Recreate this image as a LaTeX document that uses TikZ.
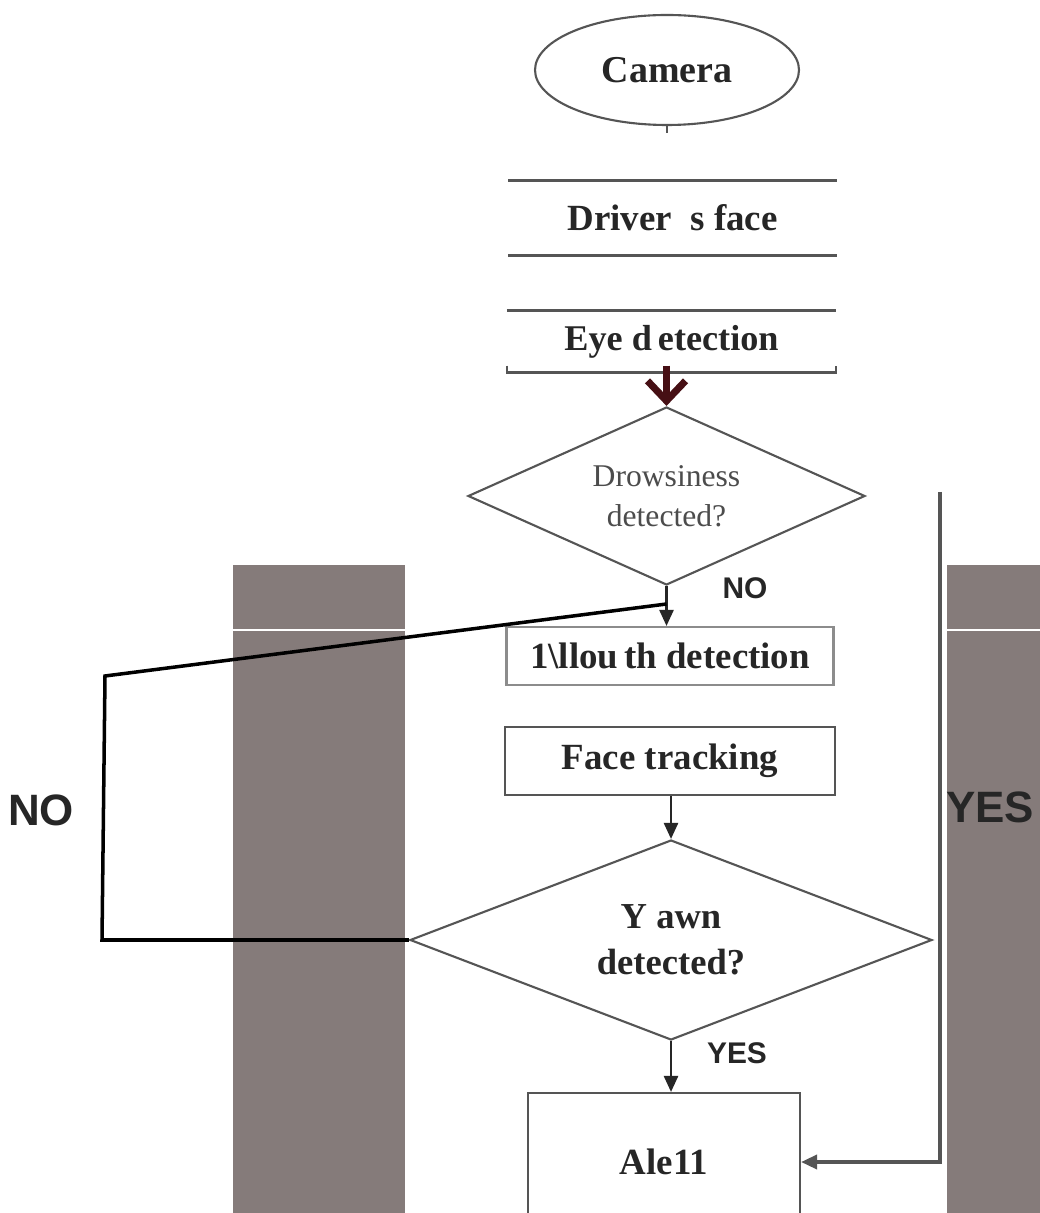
\documentclass[tikz,border=0pt]{standalone}
\usepackage{fontspec}
\setmainfont{Liberation Serif}
\newfontfamily\labelfont{Liberation Sans}
\usetikzlibrary{shapes.geometric,arrows.meta}
\definecolor{barcolor}{RGB}{133,123,122}
\definecolor{boxline}{RGB}{85,85,85}
\definecolor{eyearrow}{RGB}{70,15,20}

\begin{document}
\begin{tikzpicture}[
  every node/.style={text=black!85, inner sep=0pt},
  stagebox/.style={draw=boxline, line width=0.6pt, rectangle, font=\bfseries\fontsize{10.5}{12}\selectfont},
  decision/.style={draw=boxline, line width=0.6pt, diamond, align=center},
  flow/.style={draw=black!85, line width=0.7pt, -{Triangle[length=1.6mm,width=1.4mm]}},
  loopline/.style={draw=black, line width=1pt},
  tag/.style={font=\labelfont\bfseries\fontsize{8.5}{10}\selectfont},
  bigtag/.style={font=\labelfont\bfseries\fontsize{12.5}{14}\selectfont}
]

        \clip (0,0) rectangle (10.40,-12.13);
        \fill[white] (0,0) rectangle (10.40,-12.13);

        % gray side bars
        \foreach \xa/\xb in {2.33/4.05, 9.47/10.40}{
            \fill[barcolor] (\xa,-5.65) rectangle (\xb,-12.13);
            \draw[white, line width=0.8pt] (\xa,-6.30) -- (\xb,-6.30);
 }

        \node[draw=boxline, line width=0.6pt, ellipse, minimum width=2.64cm, minimum height=1.10cm,
              font=\bfseries\fontsize{10.8}{12}\selectfont] (cam) at (6.67,-0.70) {Camera};
        \draw[boxline, line width=0.6pt] (cam.south) -- ++(0,-0.07);

        \node[font=\bfseries\fontsize{10.5}{12}\selectfont, minimum width=3.27cm, minimum height=0.74cm] (face) at (6.725,-2.18) {Driver\ \ s face};
        \draw[boxline, line width=0.7pt] (face.north west) -- (face.north east);
        \draw[boxline, line width=0.7pt] (face.south west) -- (face.south east);

        \node[font=\bfseries\fontsize{10.3}{12}\selectfont, minimum width=3.28cm, minimum height=0.61cm] (eye) at (6.715,-3.415) {Eye d\,etection};
        \draw[boxline, line width=0.7pt] (eye.north west) -- (eye.north east);
        \draw[boxline, line width=0.7pt] ([yshift=0.07cm]eye.south west) -- (eye.south west) -- (eye.south east) -- ++(0,0.07);

        \node[decision, shape aspect=2.23, minimum width=3.97cm, minimum height=1.78cm, font=\fontsize{9}{11.5}\selectfont, text=black!70] (d1) at (6.665,-4.96) {Drowsiness\\detected?};

        \node[stagebox, draw=black!45, minimum width=3.27cm, minimum height=0.58cm] (mouth) at (6.70,-6.56) {1\textbackslash llou\,th detection};

        \node[stagebox, minimum width=3.30cm, minimum height=0.68cm] (track) at (6.70,-7.61) {Face tracking};

        \node[decision, shape aspect=2.61, minimum width=5.22cm, minimum height=2.00cm, font=\bfseries\fontsize{10.4}{13}\selectfont] (d2) at (6.71,-9.40) {Y awn\\detected?};

        \node[stagebox, minimum width=2.72cm, minimum height=1.38cm] (alert) at (6.64,-11.62) {Ale11};

        \coordinate (join) at (6.665,-6.04);
        \coordinate (loopT) at (1.05,-6.76);
        \coordinate (loopB) at (1.02,-9.40);
        \coordinate (yesTop) at (9.40,-4.92);
        \coordinate (yesCorner) at (9.40,-11.62);

        % connectors
        \draw[eyearrow, line width=2pt, -{Straight Barb[length=2mm,width=3.8mm]}] ([yshift=0.07cm]d1.north |- eye.south) -- (d1.north);
        \draw[flow] (d1.south) -- (d1.south |- mouth.north);
        \draw[flow] (track.south -| d2.north) -- (d2.north);
        \draw[flow] (d2.south) -- (d2.south |- alert.north);
        \draw[loopline] (d2.west) -- (loopB) -- (loopT) -- (join);
        \draw[flow, draw=boxline, line width=1pt] (yesTop) -- (yesCorner) -- (alert.east);

        % labels
        \node[tag] (noA) at (7.45,-5.88) {NO};
        \node[tag] (yesA) at (7.37,-10.53) {YES};
        \node[bigtag] (noB) at (0.41,-8.10) {NO};
        \node[bigtag] (yesB) at (9.90,-8.07) {YES};

\end{tikzpicture}
\end{document}
